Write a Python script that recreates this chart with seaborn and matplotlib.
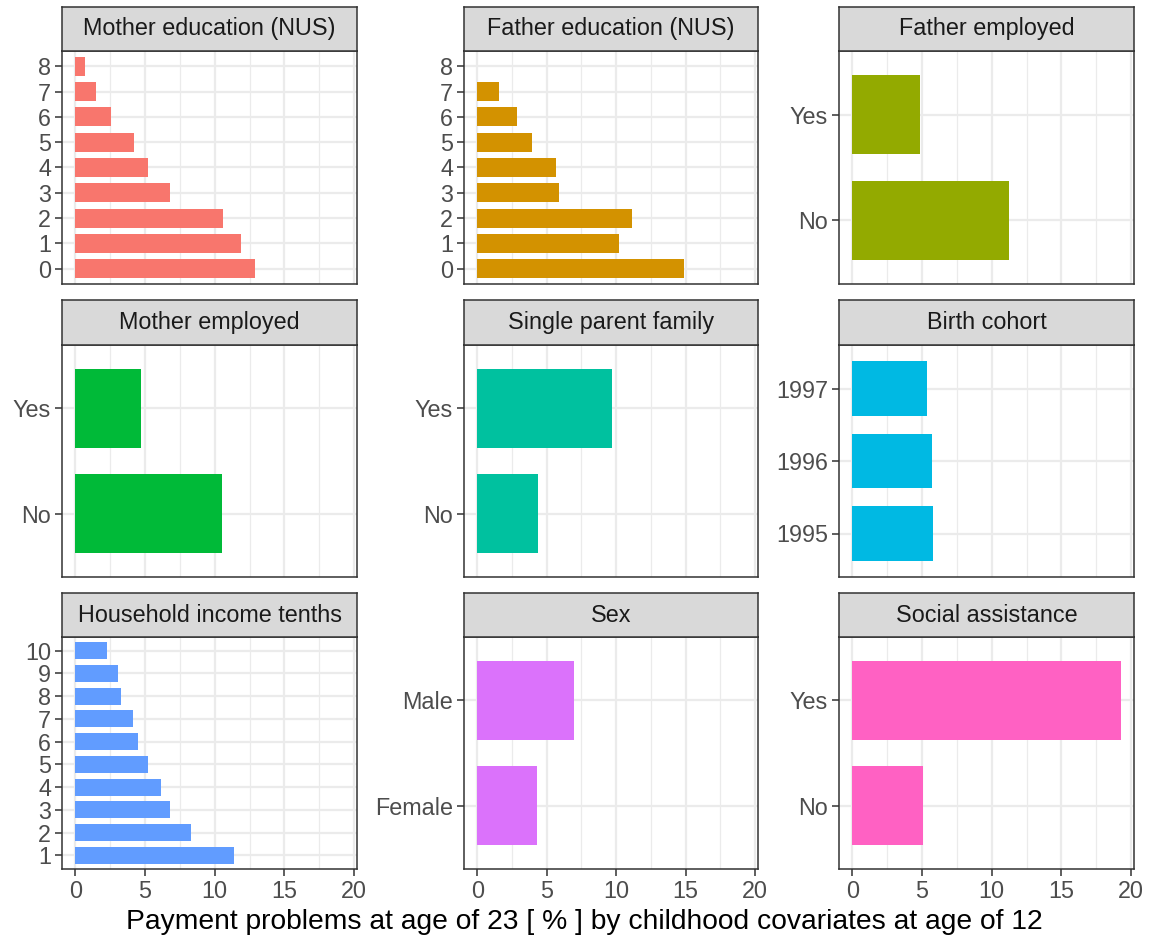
import matplotlib
matplotlib.use("Agg")
import matplotlib.pyplot as plt
import seaborn as sns
import pandas as pd
from matplotlib.ticker import MultipleLocator

sns.set_theme(style="white")
plt.rcParams['font.family'] = ['Liberation Sans', 'DejaVu Sans']

# ---- data ----
facets = ["Mother education (NUS)", "Father education (NUS)", "Father employed",
          "Mother employed", "Single parent family", "Birth cohort",
          "Household income tenths", "Sex", "Social assistance"]

mother_edu_levels = ["0", "1", "2", "3", "4", "5", "6", "7", "8"]
mother_edu_values = [12.87, 11.87, 10.6, 6.77, 5.21, 4.23, 2.53, 1.48, 0.72]

father_edu_levels = ["0", "1", "2", "3", "4", "5", "6", "7", "8"]
father_edu_values = [14.9, 10.19, 11.13, 5.91, 5.67, 3.97, 2.87, 1.55, 0.0]

father_emp_levels = ["No", "Yes"]
father_emp_values = [11.26, 4.84]

mother_emp_levels = ["No", "Yes"]
mother_emp_values = [10.5, 4.69]

single_parent_levels = ["No", "Yes"]
single_parent_values = [4.38, 9.71]

cohort_levels = ["1995", "1996", "1997"]
cohort_values = [5.76, 5.71, 5.36]

income_levels = ["1", "2", "3", "4", "5", "6", "7", "8", "9", "10"]
income_values = [11.39, 8.3, 6.77, 6.15, 5.19, 4.52, 4.11, 3.3, 3.04, 2.25]

sex_levels = ["Female", "Male"]
sex_values = [4.31, 6.94]

social_levels = ["No", "Yes"]
social_values = [5.07, 19.25]

colors = ["#F8766D", "#D39200", "#93AA00", "#00BA38", "#00C19F",
          "#00B9E3", "#619CFF", "#DB72FB", "#FF61C3"]

levels_list = [mother_edu_levels, father_edu_levels, father_emp_levels,
               mother_emp_levels, single_parent_levels, cohort_levels,
               income_levels, sex_levels, social_levels]
values_list = [mother_edu_values, father_edu_values, father_emp_values,
               mother_emp_values, single_parent_values, cohort_values,
               income_values, sex_values, social_values]

rows = []
for f, lv, vals in zip(facets, levels_list, values_list):
    for l, v in zip(lv, vals):
        rows.append({"facet": f, "level": l, "value": v})
df = pd.DataFrame(rows)

xlabel = "Payment problems at age of 23 [ % ] by childhood covariates at age of 12"

# ---- layout (pixels) ----
W, H = 1152, 942
fig = plt.figure(figsize=(W / 100, H / 100), dpi=100)
col_left = [62, 464, 839]
col_w = [295, 294, 295]
strip_top = [7, 300, 593]
panel_top = [51, 345, 637]
panel_bot = [284, 577, 869]

grey20 = "#333333"
grey30 = "#4D4D4D"
grid_c = "#EBEBEB"
TICK_FS = 16.8
STRIP_FS = 16.8

for i, (f, lv, col) in enumerate(zip(facets, levels_list, colors)):
    r, c = divmod(i, 3)
    x0 = col_left[c] / W
    w = col_w[c] / W
    y0 = 1 - panel_bot[r] / H
    h = (panel_bot[r] - panel_top[r]) / H
    ax = fig.add_axes([x0, y0, w, h])
    sub = df[df["facet"] == f]
    order = lv[::-1]
    sns.barplot(data=sub, x="value", y="level", order=order, color=col,
                saturation=1, width=0.75, ax=ax, edgecolor="none", errorbar=None)
    n = len(lv)
    ax.set_ylim(n - 1 + 0.6, -0.6)
    ax.set_xlim(-0.96, 20.21)
    ax.xaxis.set_major_locator(MultipleLocator(5))
    ax.xaxis.set_minor_locator(MultipleLocator(2.5))
    ax.set_axisbelow(True)
    ax.grid(True, which="major", color=grid_c, linewidth=1.6)
    ax.grid(True, which="minor", axis="x", color=grid_c, linewidth=0.9)
    ax.set_facecolor("white")
    for s in ax.spines.values():
        s.set_color(grey20)
        s.set_linewidth(1.1)
        s.set_visible(True)
    ax.set_xlabel("")
    ax.set_ylabel("")
    ax.tick_params(axis="y", which="major", direction="out", length=5, width=1.1,
                   color=grey20, labelsize=TICK_FS, labelcolor=grey30, pad=3, left=True)
    ax.tick_params(axis="x", which="minor", length=0)
    if r == 2:
        ax.tick_params(axis="x", which="major", direction="out", length=5, width=1.1,
                       color=grey20, labelsize=TICK_FS, labelcolor=grey30, pad=3, bottom=True)
    else:
        ax.tick_params(axis="x", which="major", length=0, labelbottom=False)

    # strip
    sy0 = 1 - panel_top[r] / H
    sh = (panel_top[r] - strip_top[r]) / H
    sax = fig.add_axes([x0, sy0, w, sh])
    sax.set_facecolor("#D9D9D9")
    sax.set_xticks([])
    sax.set_yticks([])
    for s in sax.spines.values():
        s.set_color(grey20)
        s.set_linewidth(1.1)
    sax.text(0.5, 0.5, f, ha="center", va="center", fontsize=STRIP_FS,
             color="#1A1A1A", transform=sax.transAxes)

fig.text(584 / W, 1 - 922 / H, xlabel, ha="center", va="center",
         fontsize=20.3, color="black")

fig.savefig("out.png", dpi=100, facecolor="white")
